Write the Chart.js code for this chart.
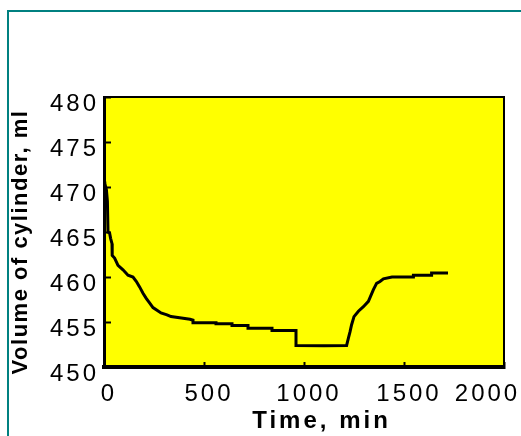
<!DOCTYPE html>
<html><head><meta charset="utf-8">
<script src="https://cdn.jsdelivr.net/npm/chart.js@4/dist/chart.umd.min.js"></script>
<style>
html,body{margin:0;padding:0;background:#fff;overflow:hidden;width:521px;height:436px;}
#frame{position:absolute;left:7px;top:10px;width:700px;height:700px;border:2px solid #008080;box-sizing:border-box;}
#c{position:absolute;left:0;top:0;}
</style></head><body>
<div id="frame"></div>
<canvas id="c" width="521" height="436"></canvas>
<script>
const timeMin = [0, 4, 12, 17, 20, 28, 33, 40, 41, 53, 70, 95, 120, 145, 162, 178, 195, 212, 225, 245, 265, 285, 315, 335, 430, 445, 445, 560, 560, 640, 640, 720, 720, 840, 840, 960, 960, 1100, 1213, 1222, 1230, 1238, 1250, 1272, 1297, 1322, 1347, 1363, 1380, 1397, 1440, 1547, 1547, 1638, 1638, 1720];
const volumeMl = [470.6, 470.4, 469.7, 468.4, 465.0, 464.9, 464.3, 463.7, 462.4, 462.1, 461.3, 460.8, 460.2, 460.0, 459.5, 458.9, 458.2, 457.6, 457.2, 456.6, 456.3, 456.0, 455.8, 455.6, 455.3, 455.2, 454.92, 454.92, 454.8, 454.8, 454.6, 454.6, 454.3, 454.3, 454.05, 454.05, 452.4, 452.35, 452.4, 453.2, 453.9, 454.7, 455.6, 456.2, 456.7, 457.3, 458.6, 459.3, 459.5, 459.8, 460.0, 460.0, 460.2, 460.2, 460.45, 460.45];
const xTicks = [0, 500, 1000, 1500, 2000];
const yTicks = [450, 455, 460, 465, 470, 475, 480];
const xTitle = 'Time, min';
const yTitle = 'Volume of cylinder, ml';

const FONT = 'Liberation Sans, Arial, sans-serif';
const W = 521, H = 436;
const AREA = {left: 104, right: 504, top: 97, bottom: 367};

function shiftTitle(scale, dx, dy, spacing) {
  if (!scale || scale._titleShifted) return;
  const orig = scale.drawTitle;
  scale.drawTitle = function () {
    const ctx = this.ctx; ctx.save(); ctx.letterSpacing = spacing; ctx.translate(dx, dy); orig.call(this); ctx.restore();
  };
  scale._titleShifted = true;
}

const bgPlugin = {
  id: 'bg',
  beforeLayout(chart) { chart.ctx.letterSpacing = '3px'; },
  afterLayout(chart) { shiftTitle(chart.scales.x, 17.5, 0, '3px'); shiftTitle(chart.scales.y, 0, 10, '1.5px'); },
  beforeDraw(chart) {
    const {ctx, chartArea: a} = chart;
    ctx.letterSpacing = '3px';
    ctx.save(); ctx.fillStyle = '#ffff00';
    ctx.fillRect(a.left, a.top, a.right - a.left, a.bottom - a.top);
    ctx.restore();
    const items = chart.scales.x.getLabelItems();
    const last = items[items.length - 1];
    if (last && !last._shifted) { last.options.translation[0] -= 21.5; last._shifted = true; }
  }
};

function noPad(s) { s.paddingLeft = 0; s.paddingRight = 0; s.paddingTop = 0; s.paddingBottom = 0; }

new Chart(document.getElementById('c'), {
  type: 'line',
  data: {
    datasets: [{
      data: timeMin.map((t, i) => ({x: t, y: volumeMl[i]})),
      borderColor: '#000', borderWidth: 3, pointRadius: 0, fill: false, tension: 0
    }]
  },
  options: {
    responsive: false, animation: false, devicePixelRatio: 1,
    layout: {padding: 0},
    plugins: {legend: {display: false}, tooltip: {enabled: false}},
    scales: {
      x: {
        type: 'linear', position: 'bottom', min: 0, max: 2000,
        afterBuildTicks: s => { s.ticks = xTicks.map(v => ({value: v})); },
        ticks: {color: '#000', font: {family: FONT, size: 24}, padding: 18, labelOffset: 5, maxRotation: 0, autoSkip: false, callback: v => String(v)},
        grid: {drawOnChartArea: false, drawTicks: true, tickLength: -5, tickWidth: 2, tickColor: '#000'},
        border: {display: true, color: '#000', width: 4},
        title: {display: true, text: xTitle, color: '#000', font: {family: FONT, size: 24, weight: 'bold'}, padding: {top: 0, bottom: 0}},
        afterFit: s => { s.height = H - AREA.bottom; noPad(s); }
      },
      y: {
        type: 'linear', position: 'left', min: 450, max: 480,
        afterBuildTicks: s => { s.ticks = yTicks.map(v => ({value: v})); },
        ticks: {color: '#000', font: {family: FONT, size: 24}, padding: 12, labelOffset: 7, autoSkip: false, callback: v => String(v)},
        grid: {drawOnChartArea: false, drawTicks: true, tickLength: -7, tickWidth: 2, tickColor: '#000'},
        border: {display: true, color: '#000', width: 3},
        title: {display: true, text: yTitle, color: '#000', font: {family: FONT, size: 22, weight: 'bold'}, padding: {top: 8, bottom: 0}},
        afterFit: s => { s.width = AREA.left; noPad(s); }
      },
      x2: {
        type: 'linear', position: 'top', min: 0, max: 2000,
        ticks: {display: false}, grid: {display: false},
        border: {display: true, color: '#000', width: 2},
        afterFit: s => { s.height = AREA.top; noPad(s); }
      },
      y2: {
        type: 'linear', position: 'right', min: 450, max: 480,
        ticks: {display: false}, grid: {display: false},
        border: {display: true, color: '#000', width: 2},
        afterFit: s => { s.width = W - AREA.right; noPad(s); }
      }
    }
  },
  plugins: [bgPlugin]
});
</script>
</body></html>
